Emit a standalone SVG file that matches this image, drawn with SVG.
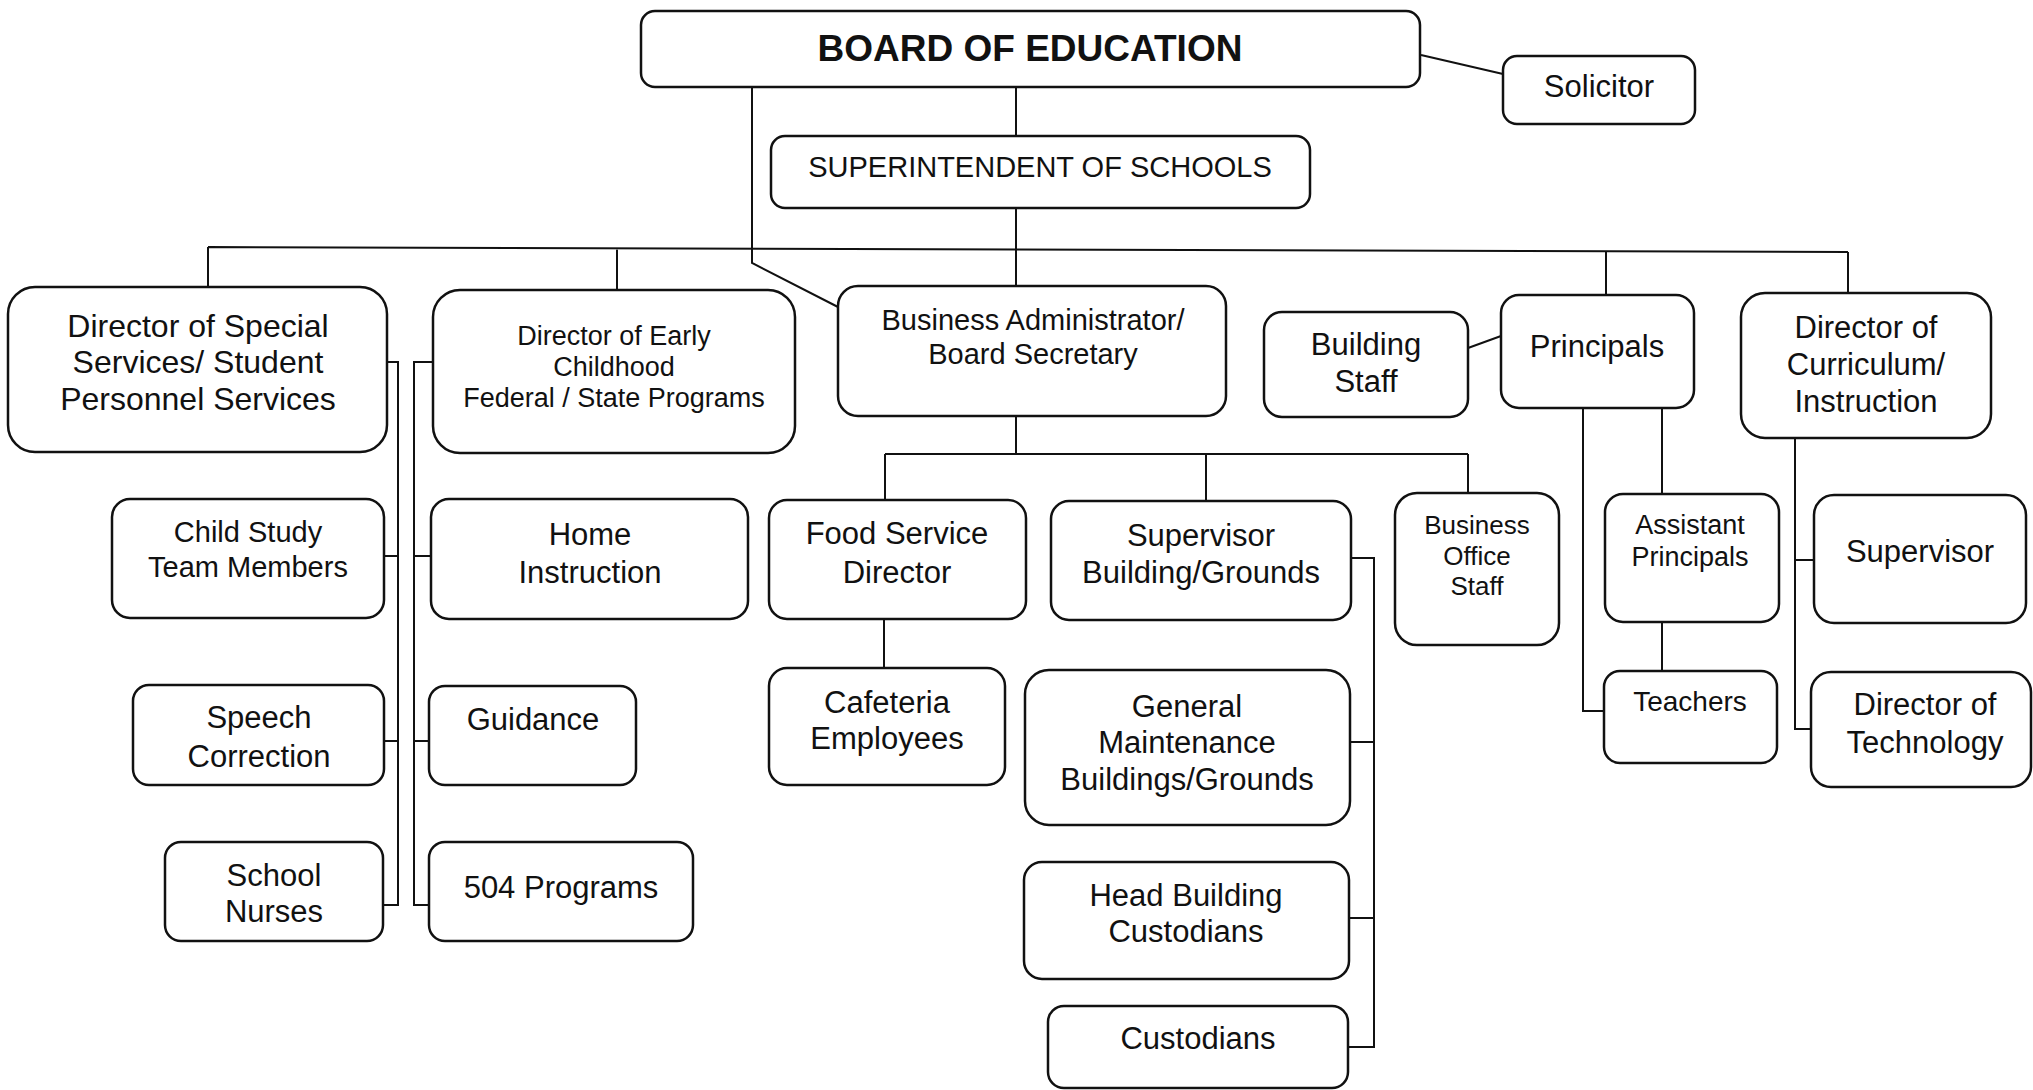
<svg xmlns="http://www.w3.org/2000/svg" width="2033" height="1090" viewBox="0 0 2033 1090">
<style>
.b{fill:#fff;stroke:#111;stroke-width:2.5}
.c{fill:none;stroke:#111;stroke-width:2}
text{font-family:"Liberation Sans",Arial,sans-serif;fill:#111;text-anchor:middle}
.f31{font-size:31px}
.f29{font-size:29px}
.f27{font-size:27px}
.f26{font-size:26px}
.f28{font-size:28px}
</style>
<rect width="2033" height="1090" fill="#fff"/>
<g id="connectors">
<path class="c" d="M1016,87V136M1016,208V287M752,87V263L838,307M1421,55L1503,74"/>
<path class="c" d="M208,247L1848,252M208,247V287M617,248V290M1606,251V295M1848,252V293"/>
<path class="c" d="M387,362H398V905H383M384,556H398M384,741H398"/>
<path class="c" d="M433,362H414V905H429M431,556H414M429,741H414"/>
<path class="c" d="M1016,416V454M885,454H1468M885,454V500M1206,454V501M1468,454V493M884,619V668"/>
<path class="c" d="M1351,558H1374V1047H1348M1350,742H1374M1349,918H1374"/>
<path class="c" d="M1468,348L1501,336M1583,408V711H1604M1662,408V494M1662,622V671"/>
<path class="c" d="M1795,438V729H1812M1795,560H1814"/>
</g>
<g id="board"><rect class="b" x="641" y="11" width="779" height="76" rx="14"/><text x="1030" y="61" style="font-size:37px;font-weight:bold">BOARD OF EDUCATION</text></g>
<g id="solicitor"><rect class="b" x="1503" y="56" width="192" height="68" rx="14"/><text class="f31" x="1599" y="97">Solicitor</text></g>
<g id="superintendent"><rect class="b" x="771" y="136" width="539" height="72" rx="14"/><text class="f29" x="1040" y="177">SUPERINTENDENT OF SCHOOLS</text></g>
<g id="dirSpecial"><rect class="b" x="8" y="287" width="379" height="165" rx="27"/><text style="font-size:32px" x="198" y="337">Director of Special</text><text style="font-size:32px" x="198" y="373">Services/ Student</text><text style="font-size:32px" x="198" y="410">Personnel Services</text></g>
<g id="dirEarly"><rect class="b" x="433" y="290" width="362" height="163" rx="27"/><text class="f27" x="614" y="345">Director of Early</text><text class="f27" x="614" y="376">Childhood</text><text class="f27" x="614" y="407">Federal / State Programs</text></g>
<g id="busAdmin"><rect class="b" x="838" y="286" width="388" height="130" rx="20"/><text class="f29" x="1033" y="330">Business Administrator/</text><text class="f29" x="1033" y="364">Board Secretary</text></g>
<g id="buildingStaff"><rect class="b" x="1264" y="312" width="204" height="105" rx="18"/><text class="f31" x="1366" y="355">Building</text><text class="f31" x="1366" y="392">Staff</text></g>
<g id="principals"><rect class="b" x="1501" y="295" width="193" height="113" rx="18"/><text class="f31" x="1597" y="357">Principals</text></g>
<g id="dirCurriculum"><rect class="b" x="1741" y="293" width="250" height="145" rx="24"/><text class="f31" x="1866" y="338">Director of</text><text class="f31" x="1866" y="375">Curriculum/</text><text class="f31" x="1866" y="412">Instruction</text></g>
<g id="childStudy"><rect class="b" x="112" y="499" width="272" height="119" rx="18"/><text class="f29" x="248" y="542">Child Study</text><text class="f29" x="248" y="577">Team Members</text></g>
<g id="homeInstruction"><rect class="b" x="431" y="499" width="317" height="120" rx="18"/><text class="f31" x="590" y="545">Home</text><text class="f31" x="590" y="583">Instruction</text></g>
<g id="speech"><rect class="b" x="133" y="685" width="251" height="100" rx="16"/><text class="f31" x="259" y="728">Speech</text><text class="f31" x="259" y="767">Correction</text></g>
<g id="guidance"><rect class="b" x="429" y="686" width="207" height="99" rx="16"/><text class="f31" x="533" y="730">Guidance</text></g>
<g id="nurses"><rect class="b" x="165" y="842" width="218" height="99" rx="16"/><text class="f31" x="274" y="886">School</text><text class="f31" x="274" y="922">Nurses</text></g>
<g id="programs504"><rect class="b" x="429" y="842" width="264" height="99" rx="16"/><text class="f31" x="561" y="898">504 Programs</text></g>
<g id="foodService"><rect class="b" x="769" y="500" width="257" height="119" rx="18"/><text class="f31" x="897" y="544">Food Service</text><text class="f31" x="897" y="583">Director</text></g>
<g id="cafeteria"><rect class="b" x="769" y="668" width="236" height="117" rx="18"/><text class="f31" x="887" y="713">Cafeteria</text><text class="f31" x="887" y="749">Employees</text></g>
<g id="supBuildingGrounds"><rect class="b" x="1051" y="501" width="300" height="119" rx="18"/><text class="f31" x="1201" y="546">Supervisor</text><text class="f31" x="1201" y="583">Building/Grounds</text></g>
<g id="genMaintenance"><rect class="b" x="1025" y="670" width="325" height="155" rx="24"/><text class="f31" x="1187" y="717">General</text><text class="f31" x="1187" y="753">Maintenance</text><text class="f31" x="1187" y="790">Buildings/Grounds</text></g>
<g id="headCustodians"><rect class="b" x="1024" y="862" width="325" height="117" rx="18"/><text class="f31" x="1186" y="906">Head Building</text><text class="f31" x="1186" y="942">Custodians</text></g>
<g id="custodians"><rect class="b" x="1048" y="1006" width="300" height="82" rx="16"/><text class="f31" x="1198" y="1049">Custodians</text></g>
<g id="busOffice"><rect class="b" x="1395" y="493" width="164" height="152" rx="22"/><text class="f26" x="1477" y="534">Business</text><text class="f26" x="1477" y="565">Office</text><text class="f26" x="1477" y="595">Staff</text></g>
<g id="asstPrincipals"><rect class="b" x="1605" y="494" width="174" height="128" rx="18"/><text class="f27" x="1690" y="534">Assistant</text><text class="f27" x="1690" y="566">Principals</text></g>
<g id="teachers"><rect class="b" x="1604" y="671" width="173" height="92" rx="16"/><text class="f28" x="1690" y="711">Teachers</text></g>
<g id="supervisor"><rect class="b" x="1814" y="495" width="212" height="128" rx="20"/><text class="f31" x="1920" y="562">Supervisor</text></g>
<g id="dirTechnology"><rect class="b" x="1811" y="672" width="220" height="115" rx="20"/><text class="f31" x="1925" y="715">Director of</text><text class="f31" x="1925" y="753">Technology</text></g>
</svg>
